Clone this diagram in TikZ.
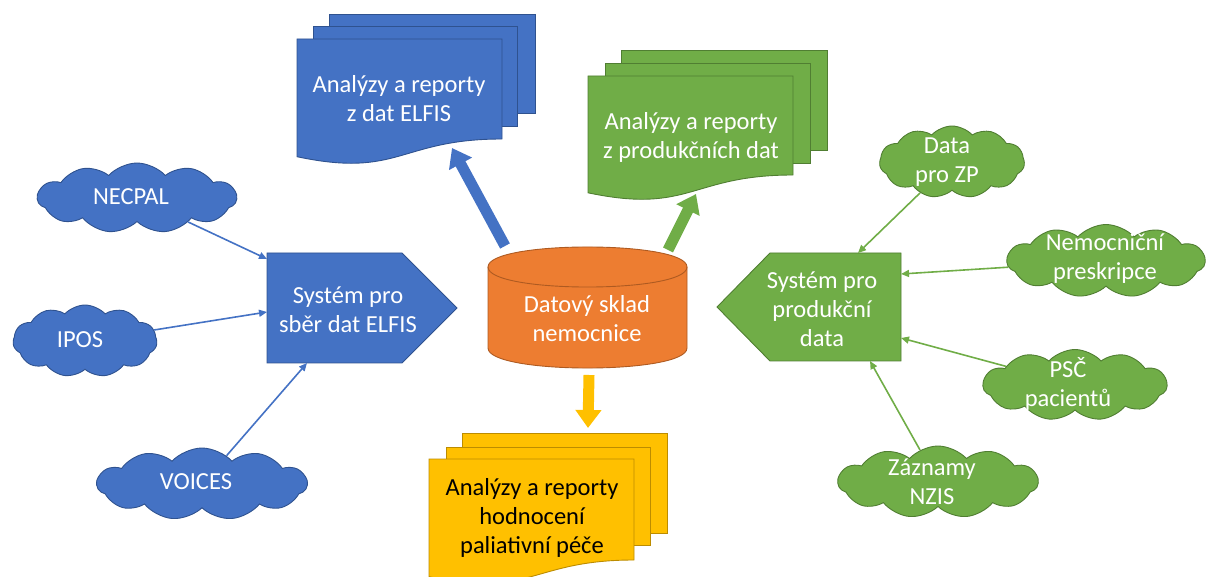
\documentclass[tikz,border=0pt]{standalone}
\usepackage{fontspec}
\setmainfont{Carlito}
\usetikzlibrary{shapes.symbols,arrows.meta}
\definecolor{bfill}{HTML}{4472C4}
\definecolor{bdark}{HTML}{2F528F}
\definecolor{gfill}{HTML}{70AD47}
\definecolor{gdark}{HTML}{507E32}
\definecolor{ofill}{HTML}{ED7D31}
\definecolor{odark}{HTML}{AE5A21}
\definecolor{yfill}{HTML}{FFC000}
\definecolor{ydark}{HTML}{BC8C00}
\tikzset{
  bshape/.style={fill=bfill,draw=bdark,line width=0.9pt},
  gshape/.style={fill=gfill,draw=gdark,line width=0.9pt},
  yshape/.style={fill=yfill,draw=ydark,line width=0.9pt},
  oshape/.style={fill=ofill,draw=odark,line width=0.9pt},
  wtext/.style={text=white,align=center,inner sep=0pt},
  cloudbase/.style={cloud,cloud puffs=11,cloud puff arc=95,cloud ignores aspect,
    inner sep=0pt,line width=0.9pt},
  bcloud/.style={cloudbase,fill=bfill,draw=bdark},
  gcloud/.style={cloudbase,fill=gfill,draw=gdark},
  conn/.style={line width=1.6pt,-{Triangle[length=8pt,width=7pt]}},
  blockarrow/.style={line width=11pt,-{Triangle[length=18pt,width=25pt]}},
}
\begin{document}
\begin{tikzpicture}[x=1pt,y=-1pt,font=\fontsize{24.5}{29}\selectfont]
\clip (0,0) rectangle (1208,577);
% ---------- blue documents ----------
\path[bshape] (329,14) rectangle (535,113);
\path[bshape] (313,26) rectangle (517,126);
\path[bshape] (297,39) -- (502,39) -- (502,139)
  .. controls (399.5,139) and (399.5,178.5) .. (297,156.7) -- cycle;
\node[wtext] (bdoc) at (399,99) {Analýzy a reporty\\z dat ELFIS};
% ---------- green documents ----------
\path[gshape] (621,50) rectangle (827,150);
\path[gshape] (605,63) rectangle (810,163);
\path[gshape] (588,76) -- (793,76) -- (793,175)
  .. controls (690.5,175) and (690.5,214.4) .. (588,192.8) -- cycle;
\node[wtext] (gdoc) at (691,137) {Analýzy a reporty\\z produkčních dat};
% ---------- yellow documents ----------
\path[yshape] (462,433) rectangle (667,533);
\path[yshape] (446,447) rectangle (650,545);
\path[yshape] (429,459) -- (634,459) -- (634,560)
  .. controls (531.5,560) and (531.5,598.5) .. (429,576.7) -- cycle;
\node[align=center,inner sep=0pt,text=black] (ydoc) at (532,518) {Analýzy a reporty\\hodnocení\\paliativní péče};
% ---------- cylinder ----------
\path[oshape] (488,267) -- (488,348) .. controls (488,374.7) and (687,374.7) .. (687,348)
  -- (687,267) .. controls (687,240.3) and (488,240.3) .. (488,267) -- cycle;
\draw[draw=odark,line width=0.9pt] (488,267) .. controls (488,293.7) and (687,293.7) .. (687,267);
\node[wtext] (dw) at (587,319) {Datový sklad\\nemocnice};
% ---------- pentagons ----------
\path[bshape] (267,253) -- (402,253) -- (457,308) -- (402,363) -- (267,363) -- cycle;
\node[wtext] (elfis) at (348,310) {Systém pro\\sběr dat ELFIS};
\path[gshape] (901,253) -- (770,253) -- (717,307) -- (770,361) -- (901,361) -- cycle;
\node[wtext] (prod) at (822,309) {Systém pro\\produkční\\data};
% ---------- clouds ----------
\node[bcloud,minimum width=199pt,minimum height=70pt] (necpal) at (137,198) {};
\node[wtext] (necpalt) at (131,197) {NECPAL};
\node[bcloud,minimum width=144pt,minimum height=72pt] (ipos) at (85,341) {};
\node[wtext] (ipost) at (80,340) {IPOS};
\node[bcloud,minimum width=210pt,minimum height=72pt] (voices) at (202,484) {};
\node[wtext] (voicest) at (196,482) {VOICES};
\node[gcloud,minimum width=145pt,minimum height=72pt] (zp) at (952,162) {};
\node[wtext] (zpt) at (947,162) {Data\\pro ZP};
\node[gcloud,minimum width=198pt,minimum height=73pt] (presk) at (1106,261) {};
\node[wtext] (preskt) at (1105,259) {Nemocniční\\preskripce};
\node[gcloud,minimum width=184pt,minimum height=71pt] (psc) at (1075,385) {};
\node[wtext] (psct) at (1068,384) {PSČ\\pacientů};
\node[gcloud,minimum width=200pt,minimum height=72pt] (nzis) at (938,482) {};
\node[wtext] (nzist) at (932,482) {Záznamy\\NZIS};
% ---------- connector end points ----------
\coordinate (e1) at (267,259);
\coordinate (e2) at (267,312);
\coordinate (e3) at (307,363);
\coordinate (p1) at (858,253);
\coordinate (p2) at (901,274);
\coordinate (p3) at (901,338);
\coordinate (p4) at (870,361);
\coordinate (bt) at (505,246);
\coordinate (bh) at (452,148);
\coordinate (gt) at (668,250);
\coordinate (gh) at (696,194);
\coordinate (yt) at (589,375);
\coordinate (yh) at (588,428);
% ---------- connectors ----------
\draw[conn,bfill] (necpal) -- (e1);
\draw[conn,bfill] (ipos) -- (e2);
\draw[conn,bfill] (voices) -- (e3);
\draw[conn,gfill] (zp) -- (p1);
\draw[conn,gfill] (presk) -- (p2);
\draw[conn,gfill] (psc) -- (p3);
\draw[conn,gfill] (nzis) -- (p4);
\draw[blockarrow,bfill] (bt) -- (bh);
\draw[blockarrow,gfill] (gt) -- (gh);
\draw[blockarrow,yfill] (yt) -- (yh);
\end{tikzpicture}
\end{document}
